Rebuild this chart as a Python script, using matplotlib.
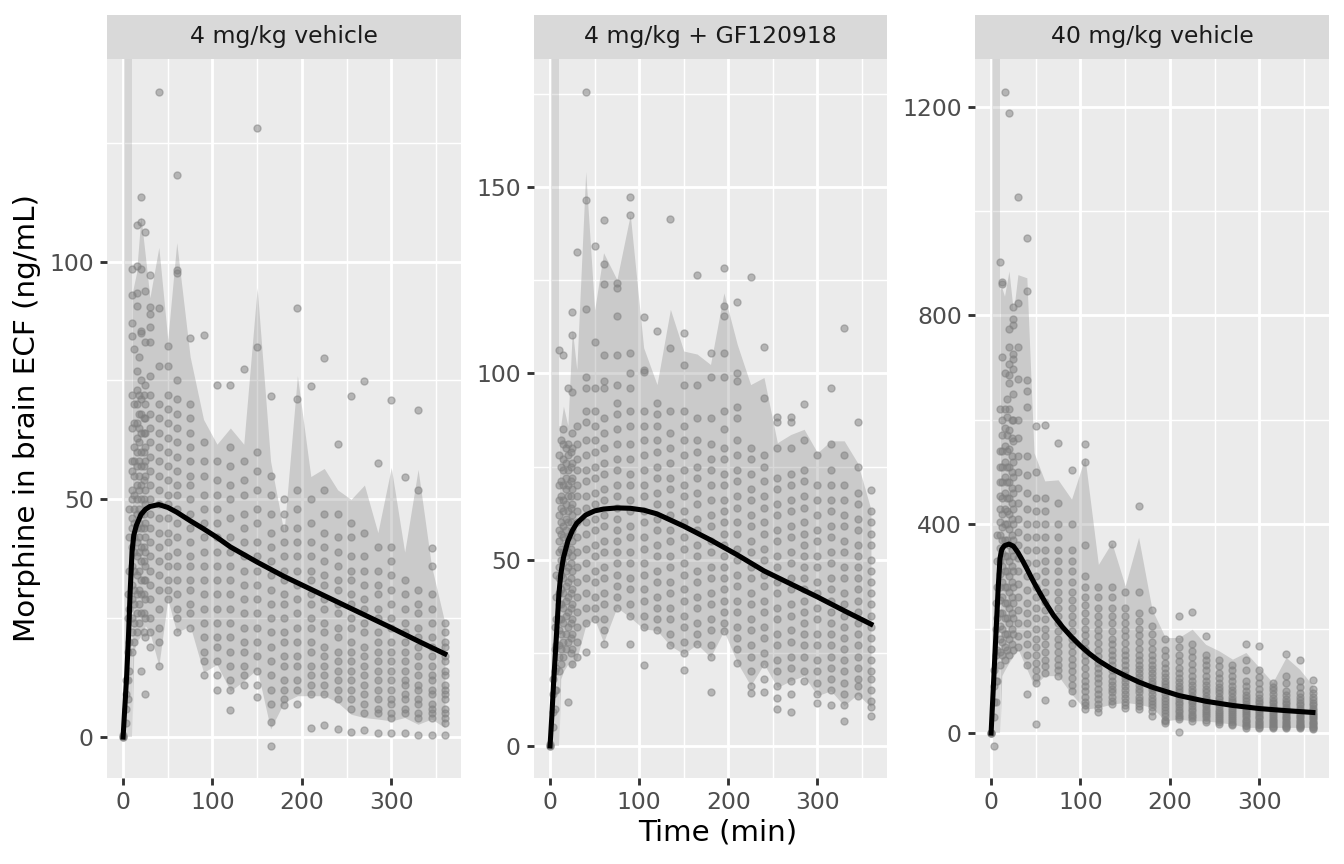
import matplotlib
matplotlib.use("Agg")
import matplotlib.pyplot as plt

# ─── DATA ─────────────────────────────────────────────────────────────────────
PANEL_TITLES = ["4 mg/kg vehicle", "4 mg/kg + GF120918", "40 mg/kg vehicle"]
X_LABEL = "Time (min)"
Y_LABEL = "Morphine in brain ECF (ng/mL)"

# infusion window shading (min)
BAND_T = [1, 10]

# observation times shared by all three panels
OBS_T = [0, 3, 5, 7, 10, 12, 15, 18, 20, 23, 25, 30, 40, 50, 60, 75, 90, 105,
         120, 135, 150, 165, 180, 195, 210, 225, 240, 255, 270, 285, 300, 315,
         330, 345, 360]

P1_OBS = [
    [0, 0, 0.5],
    [3, 6, 9, 12],
    [8, 12, 18, 25, 30],
    [14, 20, 27, 35, 42, 48],
    [18, 25, 32, 40, 46, 52, 58, 65, 72, 84.4, 87, 93, 98.5, 22, 29, 36, 44, 50, 56],
    [20, 28, 35, 42, 48, 55, 61, 66, 81.7, 24, 31, 39, 45, 51, 58, 70],
    [22, 30, 38, 44, 50, 57, 63, 70, 77, 90.6, 93.4, 99, 107.6, 26, 34, 41, 47, 53, 60, 66, 73],
    [24, 31, 39, 45, 52, 58, 65, 72, 80, 28, 35, 42, 48, 55, 62, 68],
    [14, 26, 33, 40, 47, 53, 60, 68, 75, 85, 85.5, 98.5, 108.3, 113.6, 30, 37, 44, 50, 57, 64, 71],
    [22, 30, 37, 44, 50, 57, 64, 72, 26, 33, 40, 47, 54, 60, 67],
    [9, 21, 29, 36, 42, 49, 55, 61, 67, 74, 83, 93.8, 106.3, 25, 33, 39, 45, 52, 58, 64, 70],
    [19, 25, 32, 38, 44, 50, 56, 62, 68, 76, 83, 86.3, 89, 90.5, 97.2, 22, 29, 35, 41, 47, 53, 59, 65, 72],
    [15, 20, 27, 34, 40, 46, 52, 58, 64, 70, 78, 90.3, 135.6, 23, 31, 37, 43, 49, 55, 61, 67],
    [29, 33, 38, 43, 49, 54, 60, 66, 72, 78, 82.3, 31, 36, 41, 46, 51, 57, 63, 69],
    [22, 27, 33, 39, 45, 51, 56, 62, 68, 75, 97.5, 98.3, 118.3, 25, 30, 36, 42, 48, 53, 59, 65, 71],
    [23, 28, 33, 38, 44, 50, 55, 61, 67, 84, 26, 31, 36, 41, 47, 53, 58, 64, 70],
    [13, 18, 24, 30, 36, 42, 48, 55, 62, 84.6, 16, 21, 27, 33, 39, 45, 51, 58],
    [10, 16, 21, 27, 33, 39, 45, 51, 58, 74, 13, 19, 24, 30, 36, 42, 48, 54],
    [5.8, 10, 15, 21, 27, 33, 39, 46, 53, 61, 74, 12, 18, 24, 30, 36, 42, 50, 57],
    [10.9, 15, 20, 26, 32, 38, 44, 51, 58, 77.5, 13, 18, 23, 29, 35, 41, 47, 54],
    [8.4, 14, 20, 26, 32, 38, 45, 52, 60, 82, 128, 11, 17, 23, 29, 35, 41, 48, 56],
    [-1.9, 3.2, 10, 16, 22, 28, 34, 40, 47, 55, 71.8, 7, 13, 19, 25, 31, 37, 43, 51],
    [6.7, 8, 12, 17, 22, 28, 33, 38, 44, 50, 10, 15, 20, 25, 30, 35, 41, 47],
    [6.9, 10, 15, 20, 26, 32, 38, 44, 52, 71, 90.3, 12, 17, 23, 29, 35, 41, 48],
    [1.9, 9, 13, 18, 23, 28, 33, 38, 45, 73.8, 11, 15, 20, 25, 30, 35, 41, 50],
    [2.6, 9, 13, 17, 22, 27, 32, 37, 43, 52, 79.8, 11, 15, 19, 24, 29, 34, 40, 47],
    [1.8, 8, 12, 16, 21, 26, 31, 36, 42, 61.6, 10, 14, 18, 23, 28, 33, 39, 47],
    [1.1, 6, 10, 14, 18, 23, 28, 33, 38, 45, 71.8, 8, 12, 16, 20, 25, 30, 35, 42],
    [1.5, 5, 9, 13, 17, 22, 27, 32, 38, 74.9, 7, 11, 15, 19, 24, 29, 35, 43],
    [0.8, 5, 8, 12, 16, 20, 25, 30, 35, 57.6, 6, 10, 14, 18, 22, 27, 32, 40],
    [0.8, 4, 7, 10, 14, 18, 23, 28, 34, 40, 70.9, 5, 8, 12, 16, 20, 25, 31, 37],
    [0.8, 5, 8, 11, 14, 18, 22, 27, 33, 54.7, 6, 9, 12, 16, 20, 24, 30],
    [0.4, 4, 7, 10, 13, 17, 21, 26, 31, 52, 68.8, 5, 8, 11, 15, 19, 23, 28],
    [0.4, 4, 6, 9, 12, 15, 19, 24, 30, 35.9, 39.8, 5, 7, 10, 13, 17, 21, 27],
    [0.4, 3, 5, 8, 10, 13, 16, 19, 22, 24, 4, 6, 9, 11, 14, 17, 20],
]

P2_OBS = [
    [0, 0, 0.5],
    [5, 9, 14, 18],
    [10, 15, 20, 26, 32],
    [15, 21, 27, 34, 40, 46],
    [20, 27, 34, 41, 48, 55, 62, 70, 78, 106.2, 24, 31, 38, 45, 52, 58, 66],
    [22, 30, 38, 46, 53, 60, 67, 75, 82, 26, 34, 42, 50, 57, 64, 71],
    [24, 33, 41, 49, 56, 63, 70, 77, 85, 104.9, 28, 37, 45, 52, 59, 66, 74, 81],
    [26, 35, 43, 51, 58, 65, 72, 80, 30, 39, 47, 54, 61, 69, 76],
    [11.9, 28, 36, 44, 52, 60, 67, 74, 81, 96, 32, 40, 48, 56, 63, 70, 78],
    [25, 33, 41, 49, 57, 64, 71, 79, 29, 37, 45, 53, 60, 67, 75],
    [22, 30, 38, 47, 55, 62, 69, 76, 84, 95, 110.3, 116.5, 26, 34, 42, 51, 58, 65, 72, 80],
    [24, 32, 40, 48, 56, 63, 70, 77, 86, 132.5, 28, 36, 44, 52, 60, 67, 74, 81],
    [25.3, 33, 41, 49, 57, 64, 71, 78, 87, 90, 96, 99, 117.4, 146.6, 175.5, 37, 45, 53, 60, 67, 74, 82],
    [34, 40, 47, 54, 61, 68, 75, 82, 90, 96, 108.4, 134.3, 37, 44, 51, 58, 65, 72, 79, 86],
    [27.4, 34, 41, 48, 55, 62, 69, 76, 84, 96, 98, 105, 124.1, 129.5, 141.1, 31, 38, 45, 52, 59, 66, 73, 80, 88],
    [37, 43, 49, 55, 61, 67, 74, 81, 89, 92, 97, 105, 115.5, 123, 124.4, 40, 46, 52, 58, 64, 70, 77, 85],
    [27.3, 35, 42, 49, 56, 63, 70, 77, 86, 96, 100, 105.5, 142.6, 147.3, 38, 45, 52, 59, 66, 73, 81, 90],
    [21.6, 32, 39, 46, 53, 60, 67, 74, 82, 90, 100.5, 101, 115.1, 35, 42, 49, 56, 63, 70, 78, 86],
    [31, 37, 44, 51, 58, 65, 72, 79, 86, 89, 92, 111.4, 34, 40, 47, 54, 61, 68, 75, 82],
    [27, 34, 41, 48, 55, 62, 69, 76, 84, 106.8, 141.4, 30, 37, 44, 51, 58, 65, 72, 80, 90],
    [20.3, 25, 32, 39, 46, 53, 60, 67, 74, 82, 90, 97, 102.2, 110.8, 28, 35, 42, 49, 56, 63, 70, 78, 86],
    [27.3, 33, 40, 47, 54, 61, 68, 75, 82, 97, 126.4, 30, 37, 44, 51, 58, 65, 72, 79, 88],
    [14.5, 24, 31, 38, 45, 52, 59, 66, 74, 81, 99, 105.5, 27, 34, 41, 48, 55, 62, 70, 77, 88],
    [30.9, 36, 42, 48, 54, 60, 66, 73, 80, 90, 99, 105.5, 115.5, 118, 128.3, 33, 39, 45, 51, 57, 63, 70, 77, 85],
    [22.4, 29, 36, 43, 50, 57, 64, 71, 78, 88, 91, 98, 100, 119.3, 26, 32, 39, 46, 53, 60, 67, 74, 82],
    [14.1, 16.2, 24, 31, 38, 45, 52, 59, 66, 73, 80, 125.8, 20, 27, 34, 41, 48, 55, 62, 69, 77],
    [14.6, 22, 29, 36, 43, 50, 57, 64, 71, 78, 93.4, 107.1, 18, 25, 32, 39, 46, 53, 60, 67, 75],
    [9.8, 16, 23, 30, 37, 44, 51, 58, 65, 72, 80, 87, 88.4, 13, 20, 27, 34, 41, 48, 55, 62, 69],
    [9.1, 17.5, 24, 31, 38, 45, 52, 59, 66, 73, 80, 87, 88.4, 14, 21, 28, 35, 42, 49, 56, 63, 70],
    [17.5, 24, 30, 36, 42, 48, 54, 60, 67, 74, 82, 91.8, 20, 27, 33, 39, 45, 51, 57, 64, 71],
    [11.6, 14, 20, 27, 34, 41, 48, 55, 62, 70, 78, 17, 23, 30, 37, 44, 51, 58, 66],
    [11, 15, 21, 27, 33, 39, 45, 52, 59, 66, 74, 81, 96, 18, 24, 30, 36, 42, 49, 56, 63, 70],
    [6.8, 11, 17, 23, 29, 35, 41, 48, 55, 62, 70, 78, 112.1, 14, 20, 26, 32, 38, 45, 52, 59, 66],
    [13.4, 18, 24, 30, 36, 42, 48, 54, 61, 68, 75, 87, 16, 21, 27, 33, 39, 45, 51, 58, 65],
    [8.1, 10.4, 15, 20, 26, 32, 38, 44, 50, 57, 63, 68.7, 12, 18, 23, 29, 35, 41, 47, 54, 60],
]

P3_OBS = [
    [0, 0, 1],
    [30, 60, 90, 120, -24],
    [60, 100, 150, 200, 250],
    [100, 160, 220, 280, 330, 380],
    [130, 180, 230, 280, 330, 380, 430, 480, 540, 620, 902, 155, 205, 255, 305, 355, 405, 455, 510],
    [150, 200, 260, 320, 370, 420, 480, 540, 600, 720, 860, 864, 175, 230, 290, 345, 395, 450, 510, 570],
    [140, 190, 250, 310, 370, 430, 490, 550, 620, 689, 1228, 165, 220, 280, 340, 400, 460, 520, 585],
    [160, 220, 280, 340, 400, 450, 510, 570, 640, 190, 250, 310, 370, 425, 480, 540, 605],
    [150, 210, 270, 330, 390, 450, 510, 580, 671, 686, 706, 740, 773, 1188, 180, 240, 300, 360, 420, 480, 545, 620],
    [170, 230, 290, 350, 410, 470, 530, 600, 200, 260, 320, 380, 440, 500, 565],
    [160, 220, 280, 340, 400, 460, 520, 600, 698, 717, 726, 781, 794, 816, 190, 250, 310, 370, 430, 490, 560, 650],
    [165, 210, 260, 310, 360, 410, 470, 530, 600, 678, 740, 823, 1027, 185, 235, 285, 335, 385, 440, 500, 565],
    [75, 130, 170, 210, 250, 300, 350, 400, 460, 530, 624, 655, 677, 846, 948, 150, 190, 230, 275, 325, 375, 430, 495],
    [17, 95, 120, 150, 180, 220, 260, 300, 350, 400, 450, 500, 588, 108, 135, 165, 200, 240, 280, 325, 375, 425],
    [64, 115, 140, 170, 200, 235, 270, 310, 350, 400, 450, 591, 128, 155, 185, 218, 252, 290, 330, 375, 425],
    [110, 130, 155, 180, 210, 240, 270, 310, 350, 400, 440, 556, 120, 142, 168, 195, 225, 255, 290, 330, 375],
    [58, 80, 105, 130, 155, 180, 210, 240, 270, 310, 350, 400, 504, 92, 118, 142, 168, 195, 225, 255, 290, 330],
    [46, 60, 80, 100, 125, 150, 175, 200, 230, 260, 300, 360, 520, 553, 53, 70, 90, 112, 138, 162, 188, 215, 245, 280],
    [40, 55, 75, 95, 115, 135, 160, 185, 210, 240, 280, 48, 65, 85, 105, 125, 148, 172, 198, 225, 260],
    [55, 70, 85, 100, 120, 140, 160, 180, 210, 240, 280, 363, 62, 78, 92, 110, 130, 150, 170, 195, 225, 260],
    [48, 60, 75, 90, 105, 120, 140, 160, 185, 210, 240, 270, 54, 68, 82, 98, 112, 130, 150, 172, 198, 225],
    [46, 58, 70, 85, 100, 115, 130, 150, 175, 200, 230, 270, 435, 52, 64, 78, 92, 108, 122, 140, 162, 188, 215],
    [33, 50, 62, 75, 88, 100, 115, 130, 150, 175, 205, 235, 42, 56, 68, 82, 94, 108, 122, 140, 162, 190],
    [20, 26, 38, 50, 62, 75, 88, 100, 115, 135, 160, 180, 23, 32, 44, 56, 68, 82, 94, 108, 125, 148],
    [1.3, 27, 35, 45, 55, 65, 78, 90, 105, 125, 150, 180, 225, 31, 40, 50, 60, 72, 84, 98, 115, 138, 165],
    [24, 32, 42, 52, 62, 72, 85, 100, 120, 145, 170, 231, 28, 37, 47, 57, 67, 78, 92, 110, 132, 158],
    [22, 30, 38, 47, 56, 66, 78, 92, 110, 130, 150, 185, 26, 34, 42, 52, 61, 72, 85, 100, 120, 140],
    [18, 25, 33, 41, 50, 60, 70, 82, 96, 115, 140, 21, 29, 37, 45, 55, 65, 76, 89, 105, 128],
    [15, 22, 29, 37, 45, 54, 64, 76, 90, 110, 130, 18, 25, 33, 41, 49, 59, 70, 83, 100, 120],
    [10, 16, 23, 30, 38, 46, 56, 67, 80, 100, 140, 170, 13, 20, 26, 34, 42, 51, 61, 73, 90, 120],
    [10, 15, 21, 28, 35, 43, 52, 62, 75, 95, 120, 167, 12, 18, 24, 31, 39, 47, 57, 68, 85, 108],
    [10, 14, 20, 26, 33, 40, 48, 57, 68, 82, 95, 12, 17, 23, 29, 36, 44, 52, 62, 75, 88],
    [9, 13, 19, 25, 31, 38, 46, 55, 66, 80, 110, 151, 11, 16, 22, 28, 34, 42, 50, 60, 73, 95],
    [9, 13, 18, 24, 30, 37, 44, 53, 63, 76, 100, 140, 11, 15, 21, 27, 33, 40, 48, 58, 70, 88],
    [8, 12, 17, 22, 28, 34, 41, 49, 58, 70, 85, 101, 10, 14, 19, 25, 31, 37, 45, 53, 64, 77],
]

# observed 5th-95th percentile band
RIB_T = [10, 12, 15, 20, 25, 30, 40, 50, 60, 75, 90, 105, 120, 135, 150, 165,
         180, 195, 210, 225, 240, 255, 270, 285, 300, 315, 330, 345, 360]
P1_RIB_LO = [0.3, 18, 20, 21.3, 23.4, 22, 15, 29, 22, 23.4, 13.6, 15.3, 9.7, 11.8,
             14.3, 1.7, 7.3, 8.7, 8.7, 8.7, 7.3, 4.8, 4.1, 3.8, 3.4, 4.1, 2.7, 3.8, 2.0]
P1_RIB_HI = [93, 95, 97.6, 109.5, 101, 92.4, 103, 83.6, 104, 80, 66.8, 61.6, 65, 61.6,
             94.5, 58, 43, 76, 54.8, 56.5, 52, 50, 53, 43, 56.7, 38.9, 56.3, 36, 24]
P2_RIB_LO = [0.5, 18, 20, 22, 21, 23.3, 32.3, 34, 27.8, 37.2, 34.5, 31.4, 31, 26.9,
             24.7, 27.3, 23.8, 30.9, 22.4, 16.2, 22, 15.7, 17.5, 18.8, 13.5, 14.8,
             10.8, 13.9, 10.4]
P2_RIB_HI = [86, 86, 91.2, 86, 111.8, 101, 154.2, 117, 132.4, 125.2, 142.6, 106.9, 97,
             117.2, 106, 105.2, 102.4, 121.6, 107.8, 97, 98.9, 81.4, 83.6, 85, 78.7,
             81.9, 81.9, 76, 63.5]
P3_RIB_T = [10, 12, 15, 20, 25, 30, 40, 48, 60, 75, 90, 105, 120, 135, 150, 165,
            180, 195, 210, 225, 240, 255, 270, 285, 300, 315, 330, 345, 360]
P3_RIB_LO = [0, 110, 120, 135, 148, 161, 122.5, 90.5, 110, 110, 74.6, 46, 49, 55.5,
             58.8, 55.5, 49, 23.5, 26.8, 23.5, 23.5, 20.4, 17.2, 10.9, 10.9, 10.9,
             10.9, 10.9, 10.9]
P3_RIB_HI = [850, 853, 837, 885, 806, 878, 872, 537, 483, 485, 448, 528, 323, 365,
             282, 375, 237, 183, 183, 199, 170, 157.5, 141.6, 154.4, 125.7, 97, 145,
             122.5, 90.5]

# model prediction
LINE_T = [0, 2, 4, 6, 8, 10, 12, 15, 20, 25, 30, 40, 50, 60, 75, 90, 105, 120,
          150, 180, 210, 240, 270, 300, 330, 360]
P1_LINE = [0, 6.5, 12.9, 21, 31, 39, 42.5, 44.6, 46.8, 47.9, 48.5, 48.9, 48.3, 47.3,
           45.5, 43.8, 42, 40, 36.8, 33.8, 31.1, 28.4, 25.7, 23, 20.2, 17.5]
P2_LINE = [0, 8, 17, 25, 33, 41, 46, 50.5, 55, 57.8, 59.8, 62, 63.1, 63.6, 63.9, 63.8,
           63.3, 62.3, 59, 55.3, 51.3, 47, 43.5, 40, 36.3, 32.7]
P3_LINE_T = [0, 2, 4, 6, 8, 10, 12, 15, 20, 25, 30, 35, 40, 45, 50, 60, 70, 80, 90,
             100, 110, 120, 135, 150, 165, 180, 210, 240, 270, 300, 330, 360]
P3_LINE = [0, 70, 140, 210, 280, 335, 352, 359, 362, 358, 346, 331, 315, 298, 282,
           252, 225, 203, 184, 167, 152, 139, 123, 110, 98, 88, 72, 61, 53, 47, 43, 39.5]

Y_MAJOR = [[0, 50, 100], [0, 50, 100, 150], [0, 400, 800, 1200]]
Y_MINOR = [[25, 75, 125], [25, 75, 125, 175], [200, 600, 1000]]
Y_LIMS = [(-8.6, 142.6), (-8.6, 184.4), (-86, 1291)]

# ─── PLOTTING ─────────────────────────────────────────────────────────────────
W, H = 1344, 864
PANELS_PX = [(107, 461), (534, 887), (975, 1329)]
TOP_PX, BOT_PX, STRIP_TOP = 59, 778, 15

obs_sets = [P1_OBS, P2_OBS, P3_OBS]
rib_sets = [(RIB_T, P1_RIB_LO, P1_RIB_HI), (RIB_T, P2_RIB_LO, P2_RIB_HI),
            (P3_RIB_T, P3_RIB_LO, P3_RIB_HI)]
line_sets = [(LINE_T, P1_LINE), (LINE_T, P2_LINE), (P3_LINE_T, P3_LINE)]

plt.rcParams["font.family"] = ["DejaVu Sans"]
fig = plt.figure(figsize=(7, 4.5), dpi=192)

for i, (l, r) in enumerate(PANELS_PX):
    ax = fig.add_axes([l / W, 1 - BOT_PX / H, (r - l) / W, (BOT_PX - TOP_PX) / H])
    ax.set_facecolor("#EBEBEB")
    for s in ax.spines.values():
        s.set_visible(False)

    rt, lo, hi = rib_sets[i]
    ax.fill_between(rt, lo, hi, color="#7f7f7f", alpha=0.3, lw=0, zorder=1)
    ax.fill_between(BAND_T, [0, 0], [1e5, 1e5], color="#7f7f7f", alpha=0.2,
                    lw=0, zorder=1.2)

    xs, ys = [], []
    for t, vals in zip(OBS_T, obs_sets[i]):
        xs += [t] * len(vals)
        ys += vals
    ax.scatter(xs, ys, s=7, color="#7f7f7f", alpha=0.5, lw=0.5,
               edgecolors="#7f7f7f", zorder=2)
    lt, ly = line_sets[i]
    ax.plot(lt, ly, color="black", lw=1.9, zorder=3, solid_joinstyle="round")

    ax.set_xlim(-18, 378)
    ax.set_ylim(*Y_LIMS[i])
    ax.set_xticks([0, 100, 200, 300])
    ax.set_xticks([50, 150, 250, 350], minor=True)
    ax.set_yticks(Y_MAJOR[i])
    ax.set_yticks(Y_MINOR[i], minor=True)
    ax.set_axisbelow(True)
    ax.grid(which="major", color="white", lw=1.07)
    ax.grid(which="minor", color="white", lw=0.53)
    ax.tick_params(which="major", length=2.75, width=1.07, color="#333333",
                   labelsize=8.8, labelcolor="#4D4D4D", pad=2.2)
    ax.tick_params(which="minor", length=0)

    sax = fig.add_axes([l / W, 1 - TOP_PX / H, (r - l) / W, (TOP_PX - STRIP_TOP) / H])
    sax.set_facecolor("#D9D9D9")
    sax.set_xticks([])
    sax.set_yticks([])
    for s in sax.spines.values():
        s.set_visible(False)
    sax.text(0.5, 0.5, PANEL_TITLES[i], ha="center", va="center",
             fontsize=8.8, color="#1A1A1A", transform=sax.transAxes)

fig.text((PANELS_PX[0][0] + PANELS_PX[2][1]) / 2 / W, 1 - 832 / H, X_LABEL,
         ha="center", va="center", fontsize=11)
fig.text(27 / W, 1 - (TOP_PX + BOT_PX) / 2 / H, Y_LABEL, ha="center",
         va="center", rotation=90, fontsize=11)

fig.savefig("out.png", dpi=192, facecolor="white")
